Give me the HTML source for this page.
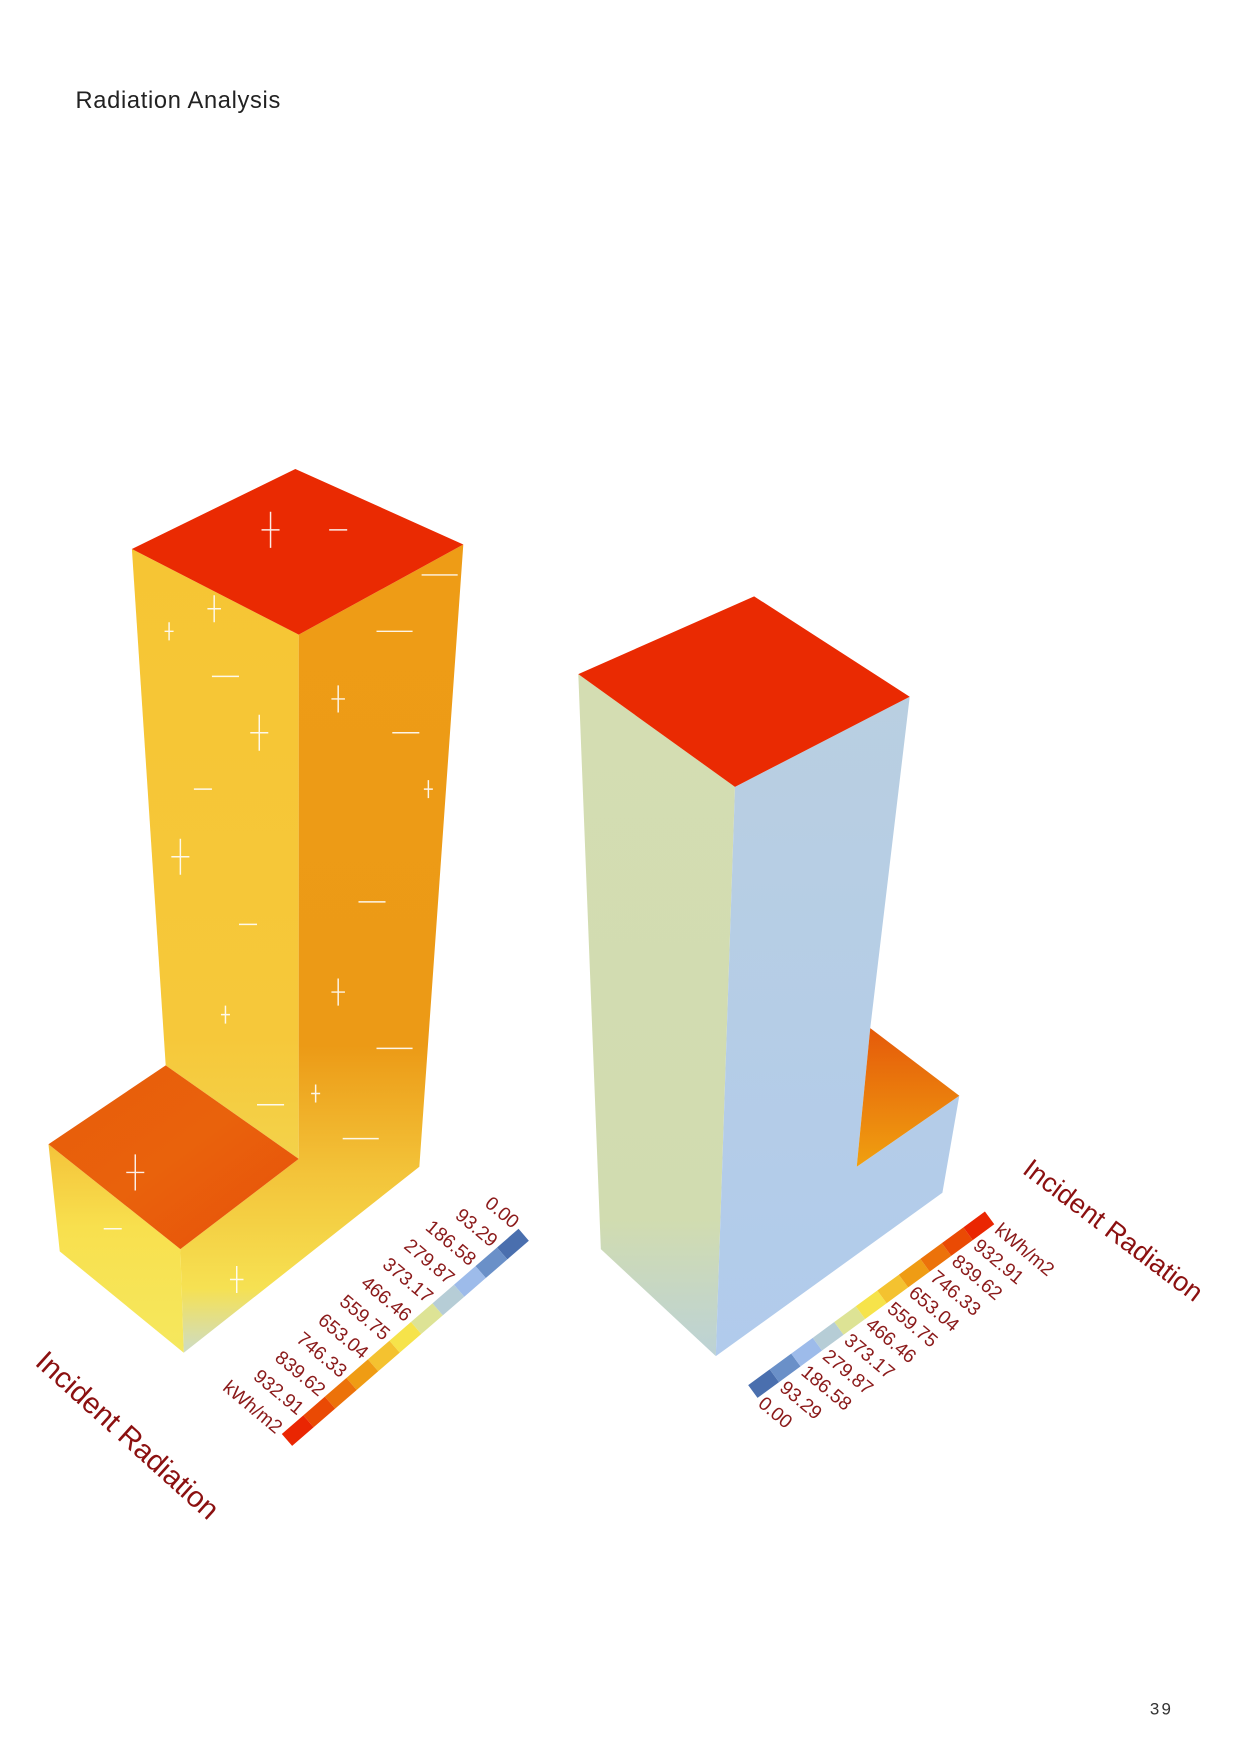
<!DOCTYPE html>
<html><head><meta charset="utf-8"><style>
html,body{margin:0;padding:0;background:#fff;}
svg{display:block;font-family:"Liberation Sans",sans-serif;}
</style></head><body>
<svg id="page" width="1240" height="1753" viewBox="0 0 1100 1555" preserveAspectRatio="none" xmlns="http://www.w3.org/2000/svg">
<defs>
<linearGradient id="ltL" x1="0" y1="0" x2="0" y2="1"><stop offset="0" stop-color="#f6c534"/><stop offset="0.8" stop-color="#f6c83a"/><stop offset="1" stop-color="#f3d24a"/></linearGradient>
<linearGradient id="ltR" x1="0" y1="0" x2="0" y2="1"><stop offset="0" stop-color="#ee9c16"/><stop offset="0.62" stop-color="#ec9a16"/><stop offset="0.78" stop-color="#f3c43a"/><stop offset="0.92" stop-color="#f6e152"/><stop offset="1" stop-color="#cddcc6"/></linearGradient>
<linearGradient id="lpL" x1="0" y1="0" x2="0" y2="1"><stop offset="0" stop-color="#f4c33a"/><stop offset="0.4" stop-color="#f8e04e"/><stop offset="1" stop-color="#f5e85e"/></linearGradient>
<linearGradient id="lpT" x1="0" y1="0" x2="1" y2="1"><stop offset="0" stop-color="#e85c0a"/><stop offset="0.5" stop-color="#e9620c"/><stop offset="1" stop-color="#e8500a"/></linearGradient>
<linearGradient id="rL" x1="0" y1="0" x2="0" y2="1"><stop offset="0" stop-color="#d4ddb2"/><stop offset="0.8" stop-color="#d1dcb0"/><stop offset="1" stop-color="#bcd2d6"/></linearGradient>
<linearGradient id="rR" x1="0" y1="0" x2="0" y2="1"><stop offset="0" stop-color="#b9cfe1"/><stop offset="1" stop-color="#b1cbec"/></linearGradient>
<linearGradient id="rN" x1="0" y1="0" x2="0" y2="1"><stop offset="0" stop-color="#e55a0a"/><stop offset="1" stop-color="#f0a010"/></linearGradient>
</defs>
<text x="67" y="96" font-size="21" fill="#222" letter-spacing="0.6">Radiation  Analysis</text>
<text x="1020" y="1521" font-size="15" fill="#333" letter-spacing="2">39</text>

<g>
<polygon points="117,487 265,563 265,1028 147,945" fill="url(#ltL)"/>
<polygon points="265,563 411,483 372,1035 163,1200 160,1108 265,1028" fill="url(#ltR)"/>
<polygon points="43,1015 160,1108 163,1200 53,1110" fill="url(#lpL)"/>
<polygon points="43,1015 147,945 265,1028 160,1108" fill="url(#lpT)"/>
<polygon points="117,487 262,416 411,483 265,563" fill="#ea2a02"/>
<g id="marks" stroke="#fff" stroke-width="1.3" opacity="0.9"></g>
</g>

<g>
<polygon points="513,598 652,698 635,1203 533,1108" fill="url(#rL)"/>
<polygon points="652,698 807,618 772,912 760,1035 851,972 836,1058 635,1203" fill="url(#rR)"/>
<polygon points="772,912 851,972 760,1035" fill="url(#rN)"/>
<polygon points="513,598 669,529 807,618 652,698" fill="#ea2a02"/>
</g>

<g id="legendL"></g>
<g id="legendR"></g>

<text transform="translate(30,1210) rotate(42)" font-size="26" fill="#8b1010">Incident Radiation</text>
<text transform="translate(906,1040) rotate(37)" font-size="24" fill="#8b1010">Incident Radiation</text>
</svg>
<script>
const legendValues = ["0.00","93.29","186.58","279.87","373.17","466.46","559.75","653.04","746.33","839.62","932.91"];
const legendColors = ["#4a6fae","#6a90c8","#9dbbea","#b6cdd6","#dde395","#f6e34a","#f4c230","#ef9c14","#ec720a","#ea4a04","#ea2602"];
const legendUnit = "kWh/m2";
const NS = "http://www.w3.org/2000/svg";

function drawLegend(g, x0, y0, x1, y1, lx, ly, anchor) {
  const n = legendColors.length;
  const dx = (x1 - x0) / n, dy = (y1 - y0) / n;
  const w = 14;
  const pos = i => [x0 + dx * i, y0 + dy * i];
  for (let i = 0; i < n; i++) {
    const [ax, ay] = pos(i), [bx, by] = pos(i + 1);
    const p = document.createElementNS(NS, "polygon");
    p.setAttribute("points", `${ax},${ay} ${bx},${by} ${bx - lx * w},${by - ly * w} ${ax - lx * w},${ay - ly * w}`);
    p.setAttribute("fill", legendColors[i]);
    
    
    g.appendChild(p);
  }
  const labels = legendValues.concat([legendUnit]);
  for (let i = 0; i < labels.length; i++) {
    const [cx, cy] = pos(i);
    const ox = cx + lx * 4, oy = cy + ly * 4;
    const t = document.createElementNS(NS, "text");
    t.textContent = labels[i];
    t.setAttribute("font-size", "17");
    t.setAttribute("fill", "#8b1a1a");
    t.setAttribute("text-anchor", anchor);
    t.setAttribute("dominant-baseline", "middle");
    t.setAttribute("transform", `translate(${ox},${oy}) rotate(40)`);
    
    
    g.appendChild(t);
  }
}
drawLegend(document.getElementById("legendL"), 460, 1090, 250, 1272, -0.653, -0.757, "end");
drawLegend(document.getElementById("legendR"), 672, 1240, 882, 1086, 0.592, 0.806, "start");

const mg = document.getElementById("marks");
const markPts = [[150,560],[200,600],[230,650],[180,700],[300,620],[350,560],[380,700],[330,800],[160,760],[220,820],[300,880],[350,930],[200,900],[240,980],[120,1040],[100,1090],[210,1135],[320,1010],[280,970],[360,650],[240,470],[300,470],[190,540],[390,510]];
markPts.forEach(([x,y],i)=>{
  const l = document.createElementNS(NS,"path");
  const s = 8 + (i%3)*4;
  l.setAttribute("d", i%2 ? `M${x-s},${y}h${2*s}` : `M${x},${y-s}v${2*s}M${x-s/2},${y}h${s}`);
  
  
  mg.appendChild(l);
});
</script>
</body></html>
